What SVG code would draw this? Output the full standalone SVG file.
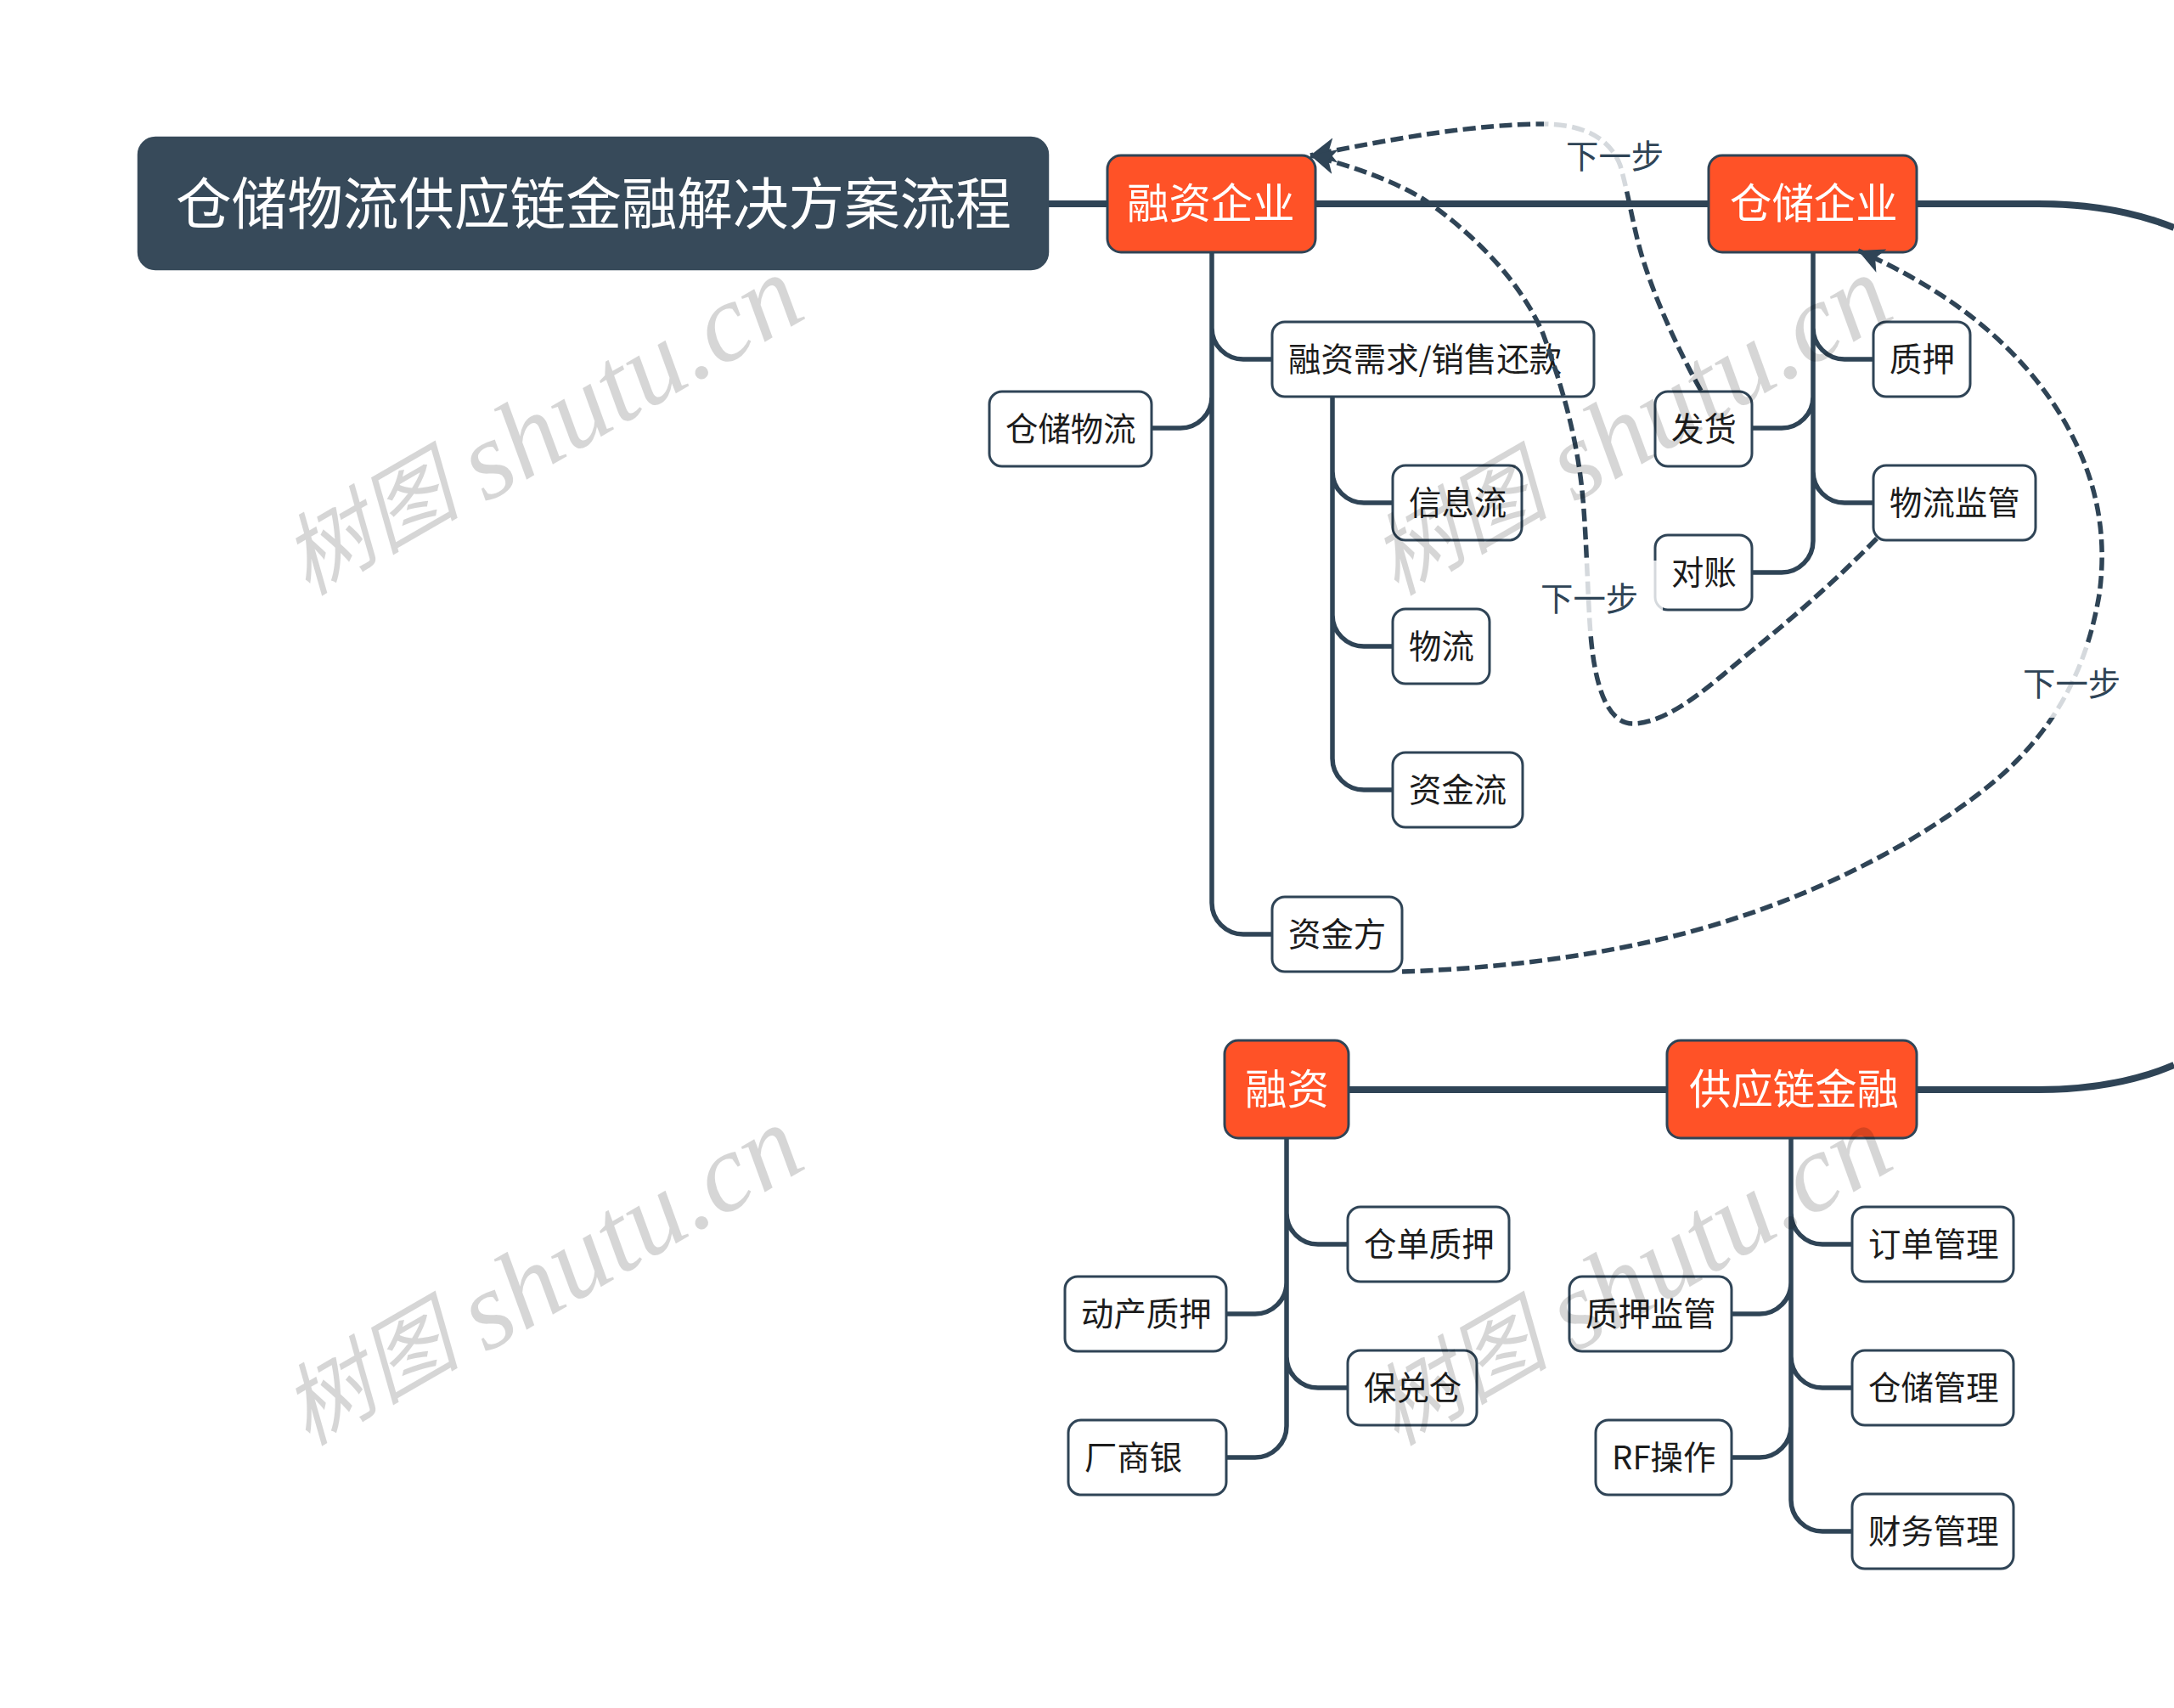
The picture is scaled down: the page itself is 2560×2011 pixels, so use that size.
<svg xmlns="http://www.w3.org/2000/svg" width="2560" height="2011" viewBox="0 0 2560 2011">
<style>
text{font-family:"Noto Sans CJK SC","Noto Sans",sans-serif;}
.main{fill:none;stroke:#2f4456;stroke-width:8}
.br{fill:none;stroke:#2f4456;stroke-width:5.5}
.dash{fill:none;stroke:#2f4456;stroke-width:5.5;stroke-dasharray:15 6.5;marker-end:url(#arr)}
.root rect{fill:#374a5a;stroke:#374a5a;stroke-width:2.5}
.root text{fill:#fff;font-size:65.6px}
.major rect{fill:#ff5227;stroke:#2f4456;stroke-width:3}
.major text{fill:#fff;font-size:49.4px}
.leaf rect{fill:#fff;stroke:#2f4456;stroke-width:3}
.leaf text{fill:#1c1c1c;font-size:38.4px}
.lbl rect{fill:#fff;fill-opacity:.8}
.lbl text{fill:#2f4456;font-size:38.4px}
.wm{font-family:"Liberation Serif","Noto Sans CJK SC",serif;font-style:italic;fill:#000;fill-opacity:.16}
.wc{font-family:"Noto Sans CJK SC",serif;font-size:105px}
.wl{font-size:131px}
</style>
<defs><marker id="arr" markerUnits="userSpaceOnUse" markerWidth="34" markerHeight="32" refX="30" refY="15" orient="auto"><path d="M0 0L30 15L0 30L8 15Z" fill="#2f4456"/></marker></defs>
<rect width="2560" height="2011" fill="#fff"/>
<g id="connectors">
<path class="main" d="M1234 240H1303M1549 240H2011M2258 240H2400C2460 240 2515 250 2560 268"/>
<path class="main" d="M1588 1283H1963M2257 1283H2400C2460 1283 2515 1273 2560 1254"/>
<path class="br" d="M1427 297V1063A37 37 0 0 0 1464 1100H1497M1427 386A37 37 0 0 0 1464 423H1497M1427 467A37 37 0 0 1 1390 504H1356"/>
<path class="br" d="M1569 467V893A37 37 0 0 0 1606 930H1640M1569 555A37 37 0 0 0 1606 592H1640M1569 724A37 37 0 0 0 1606 761H1640"/>
<path class="br" d="M2135 297V637A37 37 0 0 1 2098 674H2063M2135 386A37 37 0 0 0 2172 423H2206M2135 467A37 37 0 0 1 2098 504H2063M2135 555A37 37 0 0 0 2172 592H2206"/>
<path class="br" d="M1515 1340V1679A37 37 0 0 1 1478 1716H1444M1515 1428A37 37 0 0 0 1552 1465H1587M1515 1510A37 37 0 0 1 1478 1547H1444M1515 1597A37 37 0 0 0 1552 1634H1587"/>
<path class="br" d="M2109 1340V1766A37 37 0 0 0 2146 1803H2181M2109 1428A37 37 0 0 0 2146 1465H2181M2109 1510A37 37 0 0 1 2072 1547H2039M2109 1597A37 37 0 0 0 2146 1634H2181M2109 1679A37 37 0 0 1 2072 1716H2039"/>
</g>
<g id="root" class="root"><rect x="163" y="162" width="1071" height="155" rx="20"/><text x="207" y="264">仓储物流供应链金融解决方案流程</text></g>
<g id="n-rzqy" class="major"><rect x="1304" y="183" width="245" height="114" rx="16"/><text x="1327" y="257">融资企业</text></g>
<g id="n-ccqy" class="major"><rect x="2012" y="183" width="245" height="114" rx="16"/><text x="2037" y="257">仓储企业</text></g>
<g id="n-rz" class="major"><rect x="1442" y="1225" width="146" height="115" rx="16"/><text x="1466" y="1300">融资</text></g>
<g id="n-gyl" class="major"><rect x="1963" y="1225" width="294" height="115" rx="16"/><text x="1989" y="1300">供应链金融</text></g>
<g id="n-xq" class="leaf"><rect x="1498" y="379" width="379" height="88" rx="15"/><text x="1517" y="437">融资需求/销售还款</text></g>
<g id="n-ccwl" class="leaf"><rect x="1165" y="461" width="191" height="88" rx="15"/><text x="1184" y="519">仓储物流</text></g>
<g id="n-xxl" class="leaf"><rect x="1640" y="548" width="152" height="88" rx="15"/><text x="1659" y="606">信息流</text></g>
<g id="n-wl" class="leaf"><rect x="1640" y="717" width="114" height="88" rx="15"/><text x="1659" y="775">物流</text></g>
<g id="n-zjl" class="leaf"><rect x="1640" y="886" width="153" height="88" rx="15"/><text x="1659" y="944">资金流</text></g>
<g id="n-zjf" class="leaf"><rect x="1498" y="1056" width="153" height="88" rx="15"/><text x="1517" y="1114">资金方</text></g>
<g id="n-zy" class="leaf"><rect x="2206" y="379" width="114" height="88" rx="15"/><text x="2225" y="437">质押</text></g>
<g id="n-fh" class="leaf"><rect x="1949" y="461" width="114" height="88" rx="15"/><text x="1968" y="519">发货</text></g>
<g id="n-wljg" class="leaf"><rect x="2206" y="548" width="191" height="88" rx="15"/><text x="2225" y="606">物流监管</text></g>
<g id="n-dz" class="leaf"><rect x="1949" y="630" width="114" height="88" rx="15"/><text x="1968" y="688">对账</text></g>
<g id="n-cdzy" class="leaf"><rect x="1587" y="1421" width="190" height="88" rx="15"/><text x="1606" y="1479">仓单质押</text></g>
<g id="n-dczy" class="leaf"><rect x="1254" y="1503" width="190" height="88" rx="15"/><text x="1273" y="1561">动产质押</text></g>
<g id="n-bdc" class="leaf"><rect x="1587" y="1590" width="152" height="88" rx="15"/><text x="1606" y="1648">保兑仓</text></g>
<g id="n-csy" class="leaf"><rect x="1258" y="1672" width="186" height="88" rx="15"/><text x="1277" y="1730">厂商银</text></g>
<g id="n-ddgl" class="leaf"><rect x="2181" y="1421" width="190" height="88" rx="15"/><text x="2200" y="1479">订单管理</text></g>
<g id="n-zyjg" class="leaf"><rect x="1848" y="1503" width="191" height="88" rx="15"/><text x="1867" y="1561">质押监管</text></g>
<g id="n-ccgl" class="leaf"><rect x="2181" y="1590" width="190" height="88" rx="15"/><text x="2200" y="1648">仓储管理</text></g>
<g id="n-rf" class="leaf"><rect x="1879" y="1672" width="160" height="88" rx="15"/><text x="1898" y="1730">RF操作</text></g>
<g id="n-cwgl" class="leaf"><rect x="2181" y="1759" width="190" height="88" rx="15"/><text x="2200" y="1817">财务管理</text></g>
<g id="relationships">
<path class="dash" d="M2003 460C1975 410 1948 350 1933 300C1922 262 1918 230 1908 195C1895 160 1860 146 1817 146C1740 146 1640 163 1543 183"/>
<path class="dash" d="M2210 634C2165 680 2120 720 2067 763C2030 792 1970 852 1923 852C1890 852 1876 800 1872 733C1869 680 1868 640 1865 600C1860 530 1845 470 1817 393C1790 330 1735 275 1677 235C1640 212 1590 195 1543 183"/>
<path class="dash" d="M1651 1144C1770 1140 1885 1125 1987 1098C2110 1065 2230 1010 2327 937C2410 875 2455 800 2472 700C2483 620 2465 550 2423 483C2370 400 2290 340 2188 295"/>
</g>
<g id="label-1" class="lbl"><rect x="1818" y="143" width="170" height="78"/><text x="1844" y="198">下一步</text></g>
<g id="label-2" class="lbl"><rect x="1788" y="660" width="170" height="85"/><text x="1814" y="719">下一步</text></g>
<g id="label-3" class="lbl"><rect x="2357" y="760" width="170" height="85"/><text x="2382" y="819">下一步</text></g>
<g id="watermarks">
<text class="wm" transform="translate(362 702) rotate(-30)"><tspan class="wc">树图 </tspan><tspan class="wl" dx="3" dy="10">shutu.cn</tspan></text>
<text class="wm" transform="translate(1644 702) rotate(-30)"><tspan class="wc">树图 </tspan><tspan class="wl" dx="3" dy="10">shutu.cn</tspan></text>
<text class="wm" transform="translate(362 1703) rotate(-30)"><tspan class="wc">树图 </tspan><tspan class="wl" dx="3" dy="10">shutu.cn</tspan></text>
<text class="wm" transform="translate(1644 1703) rotate(-30)"><tspan class="wc">树图 </tspan><tspan class="wl" dx="3" dy="10">shutu.cn</tspan></text>
</g>
</svg>
